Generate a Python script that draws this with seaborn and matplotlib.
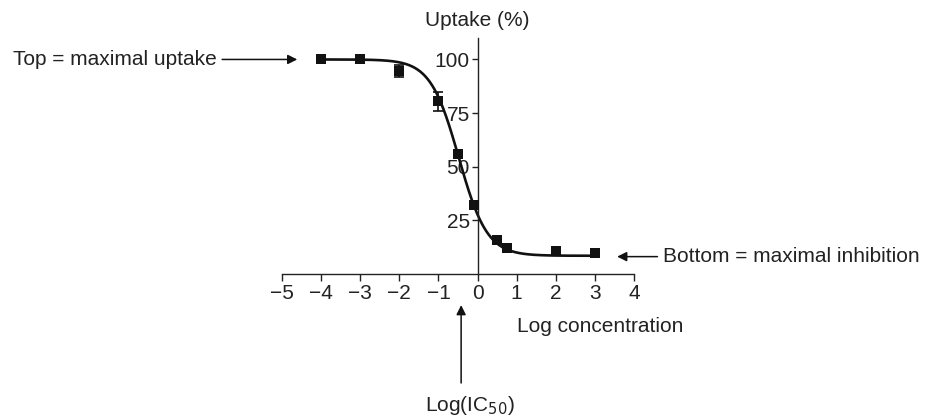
import numpy as np
import pandas as pd
import matplotlib
matplotlib.use("Agg")
import matplotlib.pyplot as plt
import seaborn as sns

# Measured uptake at each log concentration
log_conc = [-4, -3, -2, -1, -0.5, -0.1, 0.5, 0.75, 2, 3]
uptake = [100, 100, 94.5, 80.5, 56, 32, 16, 12, 10.5, 10]
uptake_err = [0, 0, 2.8, 4.5, 0, 0, 0, 0, 0, 0]

# Four-parameter logistic fit
fit_top = 100.0
fit_bottom = 8.5
fit_log_ic50 = -0.48
fit_hill = 1.2

x_ticks = [-5, -4, -3, -2, -1, 0, 1, 2, 3, 4]
y_ticks = [25, 50, 75, 100]

sns.set_theme(style="ticks")
plt.rcParams["font.family"] = ["Liberation Sans", "DejaVu Sans"]
plt.rcParams["axes.unicode_minus"] = True

fig = plt.figure(figsize=(9.26, 4.16), dpi=100)
ax = fig.add_axes([282 / 926, 142 / 416, 352 / 926, 236 / 416])

df = pd.DataFrame({"log_conc": log_conc, "uptake": uptake, "err": uptake_err})

xs = np.linspace(-4, 3.05, 400)
fit = fit_bottom + (fit_top - fit_bottom) / (1 + 10 ** ((xs - fit_log_ic50) * fit_hill))
sns.lineplot(x=xs, y=fit, ax=ax, color="#111111", linewidth=1.9, zorder=2)

with_err = df[df["err"] > 0]
ax.errorbar(with_err["log_conc"], with_err["uptake"], yerr=with_err["err"],
            fmt="none", ecolor="#111111", elinewidth=1.2, capsize=3.5, capthick=1.2, zorder=3)
sns.scatterplot(data=df, x="log_conc", y="uptake", ax=ax, marker="s", s=60,
                color="#111111", edgecolor="#111111", linewidth=0, zorder=4)

ax.set_xlim(-5, 4)
ax.set_ylim(0, 110)
ax.set_xticks(x_ticks)
ax.set_yticks(y_ticks)
ax.set_xlabel("")
ax.set_ylabel("")

for side in ("top", "right"):
    ax.spines[side].set_visible(False)
ax.spines["left"].set_position(("data", 0))
ax.spines["bottom"].set_position(("data", 0))
for side in ("left", "bottom"):
    ax.spines[side].set_linewidth(1.0)
    ax.spines[side].set_color("#222222")

ax.tick_params(axis="x", direction="out", length=5, width=1.0, pad=2,
               labelsize=15, colors="#222222")
ax.tick_params(axis="y", direction="out", length=4.5, width=1.0, pad=1,
               labelsize=15, colors="#222222")

txt = dict(fontsize=15, color="#222222")
arrow = dict(arrowstyle="-|>", color="#111111", lw=1.1, mutation_scale=14,
             shrinkA=0, shrinkB=0)

ax.text(0, 118, "Uptake (%)", ha="center", va="center", clip_on=False, **txt)
ax.text(1.0, -24.5, "Log concentration", ha="left", va="center", clip_on=False, **txt)

ax.annotate("", xy=(-4.61, 100), xytext=(-6.53, 100), arrowprops=arrow,
            annotation_clip=False)
ax.text(-6.68, 100, "Top = maximal uptake", ha="right", va="center", clip_on=False, **txt)

ax.annotate("", xy=(3.57, 8.1), xytext=(4.6, 8.1), arrowprops=arrow,
            annotation_clip=False)
ax.text(4.74, 8.1, "Bottom = maximal inhibition", ha="left", va="center", clip_on=False, **txt)

ic50_arrow_x = -0.42
ax.annotate("", xy=(ic50_arrow_x, -14.5), xytext=(ic50_arrow_x, -50.8), arrowprops=arrow,
            annotation_clip=False)
ax.text(-0.21, -61.5, "Log(IC$_{50}$)", ha="center", va="center", clip_on=False, **txt)

fig.savefig("out.png", dpi=100, facecolor="white")
